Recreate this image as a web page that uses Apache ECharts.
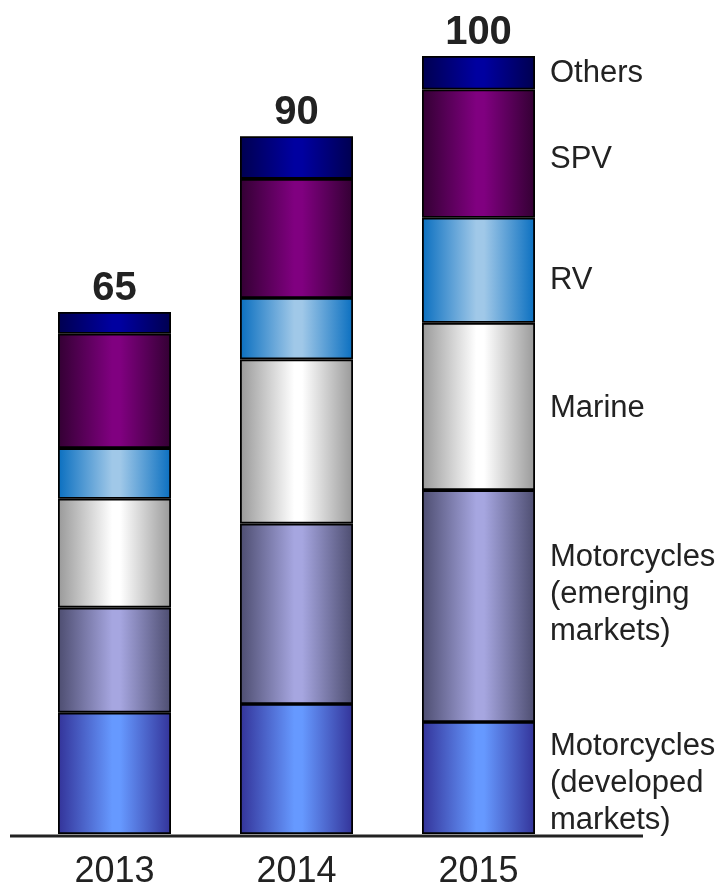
<!DOCTYPE html>
<html>
<head>
<meta charset="utf-8">
<script src="https://cdn.jsdelivr.net/npm/echarts@6/dist/echarts.min.js"></script>
<style>
html,body{margin:0;padding:0;background:#fff;}
#chart{width:723px;height:890px;}
</style>
</head>
<body>
<div id="chart"></div>
<script>
var years = ['2013', '2014', '2015'];
var totals = ['65', '90', '100'];
var seriesNames = ['Motorcycles\n(developed\nmarkets)', 'Motorcycles\n(emerging\nmarkets)', 'Marine', 'RV', 'SPV', 'Others'];
var devMarkets = [15.6, 16.7, 14.4];
var emergingMarkets = [13.5, 23.2, 29.8];
var marine = [14.0, 21.1, 21.5];
var rv = [6.5, 7.9, 13.5];
var spv = [14.7, 15.3, 16.5];
var others = [2.8, 5.5, 4.3];

var seriesData = [devMarkets, emergingMarkets, marine, rv, spv, others];
var edgeColors = ['#333399', '#4d4d70', '#999999', '#0a6fc0', '#330033', '#000050'];
var midColors = ['#6699ff', '#a6a6e0', '#ffffff', '#a0c8e8', '#800080', '#0000a0'];
var labelOffsets = [5, -12, 2, 10, 6, 1];

function grad(edge, mid) {
  return new echarts.graphic.LinearGradient(0, 0, 1, 0, [
    {offset: 0, color: edge},
    {offset: 0.48, color: mid},
    {offset: 0.55, color: mid},
    {offset: 1, color: edge}
  ]);
}

var FONT = '"Liberation Sans", Arial, sans-serif';

var series = seriesData.map(function (vals, si) {
  var last = vals.length - 1;
  return {
    type: 'bar',
    name: seriesNames[si],
    stack: 'total',
    barWidth: 113,
    itemStyle: {color: grad(edgeColors[si], midColors[si]), borderColor: '#000', borderWidth: 1.8},
    data: vals.map(function (v, i) {
      var d = {value: v};
      if (i === last) {
        d.label = {
          show: true,
          position: 'right',
          distance: 15,
          offset: [0, labelOffsets[si]],
          formatter: seriesNames[si],
          fontFamily: FONT,
          fontSize: 31,
          lineHeight: 37,
          color: '#222',
          align: 'left'
        };
      }
      return d;
    }),
    emphasis: {disabled: true}
  };
});

// totals above bars, carried by the top series
series.push({
  type: 'bar',
  stack: 'total',
  barWidth: 113,
  data: years.map(function () { return 0; }),
  itemStyle: {color: 'transparent', borderWidth: 0},
  label: {
    show: true,
    position: 'top',
    distance: 3,
    formatter: function (p) { return totals[p.dataIndex]; },
    fontFamily: FONT,
    fontSize: 40,
    fontWeight: 'bold',
    color: '#222'
  },
  emphasis: {disabled: true}
});

var chart = echarts.init(document.getElementById('chart'), null, {renderer: 'canvas'});
chart.setOption({
  animation: false,
  backgroundColor: '#fff',
  grid: {left: 23.5, right: 153.5, top: 56, bottom: 54, containLabel: false},
  xAxis: {
    type: 'category',
    data: years,
    axisLine: {show: false},
    axisTick: {show: false},
    axisLabel: {fontFamily: FONT, fontSize: 36, color: '#222', margin: 20}
  },
  yAxis: {type: 'value', min: 0, max: 100, show: false, splitLine: {show: false}},
  graphic: [{
    type: 'line',
    shape: {x1: 10, y1: 836, x2: 643, y2: 836},
    style: {stroke: '#222', lineWidth: 3},
    z: 10
  }],
  series: series
});
</script>
</body>
</html>
